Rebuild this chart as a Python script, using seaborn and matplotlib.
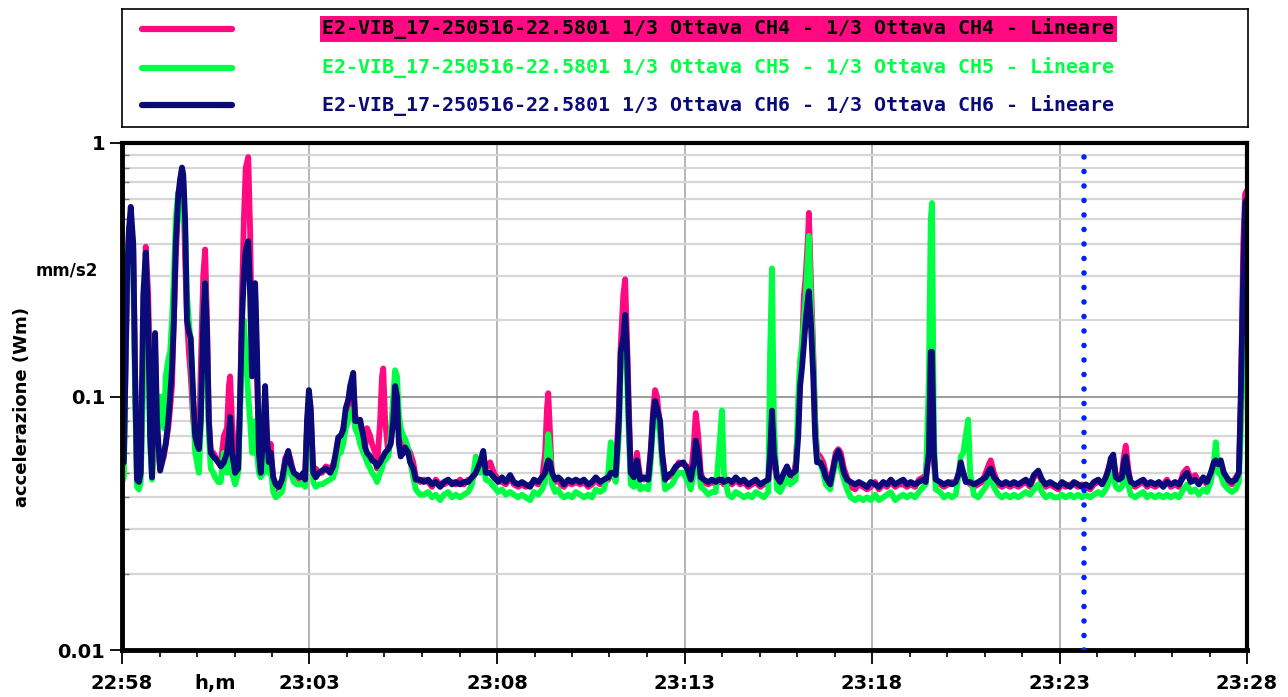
import numpy as np
import pandas as pd
import matplotlib
matplotlib.use("Agg")
import matplotlib.pyplot as plt
import matplotlib.dates as mdates
from matplotlib.ticker import FixedLocator, FuncFormatter, LogLocator, NullFormatter
import seaborn as sns

# ---------------- data ----------------
start_time = "2025-05-16 22:58:00"
span_s = 1800
cursor_s = 1539  # blue dotted cursor (23:23:39)

series_labels = [
    "E2-VIB_17-250516-22.5801 1/3 Ottava CH4 - 1/3 Ottava CH4 - Lineare",
    "E2-VIB_17-250516-22.5801 1/3 Ottava CH5 - 1/3 Ottava CH5 - Lineare",
    "E2-VIB_17-250516-22.5801 1/3 Ottava CH6 - 1/3 Ottava CH6 - Lineare",
]

# seconds after 22:58:00
time_s = [
    0, 3, 8, 11, 14, 18, 21, 24, 27, 30,
    34, 38, 42, 45, 48, 51, 53, 56, 61, 64,
    67, 70, 74, 77, 80, 83, 86, 90, 93, 96,
    98, 101, 104, 107, 110, 114, 117, 120, 123, 126,
    130, 133, 136, 139, 142, 146, 149, 154, 158, 163,
    168, 171, 173, 176, 181, 186, 189, 192, 195, 198,
    202, 205, 208, 211, 213, 216, 219, 222, 226, 229,
    232, 235, 238, 242, 246, 251, 256, 261, 266, 270,
    275, 280, 285, 290, 293, 296, 299, 302, 306, 310,
    315, 320, 326, 333, 338, 342, 346, 350, 354, 358,
    362, 365, 370, 373, 378, 381, 386, 389, 392, 397,
    400, 405, 408, 413, 416, 418, 421, 426, 430, 434,
    437, 440, 443, 446, 450, 453, 458, 461, 466, 470,
    477, 483, 490, 496, 502, 509, 515, 522, 528, 534,
    541, 547, 554, 560, 566, 573, 578, 582, 589, 595,
    602, 608, 614, 621, 627, 634, 640, 646, 653, 659,
    666, 672, 677, 680, 682, 685, 688, 693, 698, 702,
    707, 714, 720, 726, 733, 739, 746, 752, 758, 765,
    771, 778, 782, 786, 790, 795, 798, 802, 805, 808,
    811, 814, 819, 824, 829, 835, 842, 846, 850, 853,
    856, 861, 864, 869, 874, 880, 886, 891, 898, 904,
    910, 915, 918, 922, 926, 931, 938, 944, 950, 955,
    960, 963, 970, 976, 982, 989, 995, 1002, 1008, 1014,
    1021, 1027, 1034, 1037, 1040, 1043, 1048, 1053, 1059, 1064,
    1069, 1074, 1078, 1082, 1085, 1088, 1091, 1094, 1098, 1099,
    1102, 1106, 1109, 1112, 1117, 1122, 1126, 1133, 1138, 1142,
    1146, 1150, 1155, 1160, 1166, 1173, 1179, 1186, 1192, 1198,
    1205, 1211, 1218, 1224, 1230, 1237, 1243, 1250, 1256, 1262,
    1269, 1275, 1282, 1286, 1291, 1294, 1296, 1299, 1302, 1309,
    1315, 1322, 1328, 1334, 1339, 1342, 1346, 1350, 1354, 1357,
    1363, 1370, 1376, 1382, 1387, 1390, 1395, 1402, 1408, 1414,
    1421, 1427, 1434, 1440, 1446, 1453, 1459, 1466, 1472, 1478,
    1485, 1491, 1498, 1504, 1510, 1517, 1523, 1530, 1536, 1542,
    1549, 1555, 1562, 1568, 1574, 1579, 1582, 1586, 1590, 1595,
    1600, 1603, 1606, 1610, 1614, 1621, 1627, 1634, 1640, 1646,
    1653, 1659, 1666, 1672, 1678, 1685, 1691, 1698, 1704, 1710,
    1717, 1723, 1730, 1736, 1742, 1747, 1750, 1754, 1758, 1763,
    1770, 1776, 1782, 1787, 1790, 1794, 1797, 1800,
]

# CH4 (pink), mm/s2
ch4 = [
    .061, .058, .25, .45, .50, .38, .12, .048, .047, .05,
    .14, .39, .25, .1, .05, .09, .15, .07, .052, .055,
    .058, .065, .075, .09, .11, .2, .35, .58, .7, .78,
    .7, .35, .2, .15, .12, .08, .07, .06, .06, .13,
    .3, .38, .2, .08, .06, .06, .058, .055, .054, .07,
    .075, .11, .12, .08, .055, .055, .09, .25, .5, .8,
    .88, .45, .15, .2, .25, .12, .065, .055, .065, .1,
    .065, .06, .065, .045, .043, .045, .046, .057, .06, .056,
    .049, .048, .047, .048, .05, .075, .1, .085, .05, .052,
    .05, .05, .053, .052, .054, .058, .065, .068, .075, .085,
    .09, .1, .11, .085, .075, .07, .065, .062, .075, .07,
    .065, .06, .052, .08, .12, .129, .08, .06, .07, .09,
    .105, .1, .075, .07, .065, .06, .062, .06, .055, .048,
    .046, .047, .046, .044, .047, .045, .045, .046, .046, .045,
    .047, .045, .047, .047, .05, .052, .058, .052, .055, .05,
    .047, .046, .045, .048, .045, .044, .045, .044, .045, .046,
    .045, .047, .06, .09, .103, .07, .048, .046, .047, .045,
    .044, .046, .045, .046, .045, .046, .044, .045, .047, .045,
    .046, .047, .049, .05, .05, .09, .16, .25, .29, .17,
    .09, .05, .049, .06, .048, .047, .048, .062, .09, .106,
    .1, .075, .06, .048, .048, .049, .052, .055, .054, .053,
    .048, .065, .086, .07, .05, .046, .045, .046, .045, .046,
    .046, .045, .046, .045, .047, .045, .046, .044, .045, .046,
    .044, .045, .046, .058, .08, .055, .047, .045, .049, .052,
    .05, .048, .055, .08, .12, .15, .25, .3, .45, .53,
    .3, .15, .08, .06, .058, .055, .05, .046, .053, .06,
    .062, .06, .052, .048, .044, .043, .045, .044, .043, .044,
    .046, .043, .045, .044, .046, .044, .045, .045, .044, .045,
    .044, .047, .048, .049, .07, .14, .14, .055, .046, .045,
    .044, .045, .046, .045, .05, .053, .05, .047, .046, .045,
    .044, .045, .046, .05, .054, .056, .05, .045, .044, .045,
    .044, .045, .044, .045, .046, .044, .048, .05, .046, .044,
    .045, .044, .043, .045, .044, .045, .045, .044, .045, .044,
    .043, .045, .046, .046, .047, .053, .055, .057, .049, .048,
    .05, .058, .064, .052, .045, .044, .045, .046, .044, .045,
    .044, .045, .045, .047, .044, .045, .044, .05, .052, .047,
    .049, .046, .047, .045, .049, .053, .055, .053, .054, .048,
    .046, .045, .048, .05, .09, .4, .63, .65,
]

# CH5 (green), mm/s2
ch5 = [
    .046, .048, .38, .40, .45, .30, .10, .044, .043, .046,
    .12, .33, .18, .065, .047, .06, .1, .07, .1, .09,
    .075, .12, .14, .15, .2, .3, .5, .64, .55, .62,
    .5, .45, .25, .2, .16, .09, .06, .055, .05, .075,
    .2, .28, .15, .07, .052, .05, .048, .046, .046, .06,
    .05, .06, .07, .05, .045, .05, .09, .15, .2, .15,
    .1, .08, .06, .06, .08, .06, .05, .048, .05, .07,
    .058, .05, .052, .042, .04, .041, .042, .05, .055, .05,
    .046, .045, .045, .046, .044, .07, .095, .08, .046, .044,
    .045, .045, .046, .047, .048, .052, .06, .06, .065, .075,
    .08, .085, .09, .075, .07, .065, .06, .058, .055, .052,
    .05, .048, .046, .05, .052, .055, .056, .058, .07, .1,
    .127, .12, .085, .075, .07, .068, .062, .056, .048, .043,
    .041, .041, .042, .040, .041, .039, .041, .042, .040, .041,
    .040, .041, .042, .045, .058, .05, .055, .047, .046, .044,
    .042, .043, .041, .042, .041, .04, .041, .040, .039, .042,
    .041, .043, .046, .06, .071, .06, .045, .042, .043, .041,
    .040, .041, .040, .042, .041, .040, .041, .040, .043, .042,
    .043, .05, .066, .05, .046, .07, .13, .15, .19, .12,
    .07, .045, .044, .05, .043, .044, .043, .055, .08, .09,
    .085, .07, .055, .043, .044, .045, .048, .05, .05, .047,
    .043, .05, .058, .055, .044, .043, .041, .042, .042, .06,
    .088, .05, .041, .040, .042, .041, .040, .041, .040, .042,
    .041, .040, .042, .15, .32, .08, .043, .042, .045, .048,
    .045, .046, .047, .1, .14, .16, .2, .25, .38, .43,
    .25, .14, .08, .058, .055, .05, .045, .043, .05, .055,
    .057, .052, .047, .043, .040, .039, .040, .039, .040, .039,
    .041, .039, .040, .041, .042, .039, .040, .041, .040, .041,
    .040, .042, .044, .045, .12, .5, .58, .07, .043, .042,
    .040, .041, .040, .041, .05, .058, .06, .07, .081, .05,
    .041, .040, .042, .044, .047, .048, .044, .041, .040, .041,
    .040, .041, .040, .041, .042, .041, .043, .045, .042, .040,
    .041, .040, .040, .041, .040, .041, .040, .041, .040, .041,
    .040, .041, .042, .041, .043, .046, .048, .05, .044, .043,
    .044, .048, .05, .045, .041, .040, .041, .042, .040, .041,
    .040, .041, .040, .041, .040, .041, .040, .043, .045, .042,
    .043, .041, .043, .042, .046, .055, .066, .05, .049, .045,
    .043, .042, .043, .046, .07, .15, .23, .23,
]

# CH6 (navy), mm/s2
ch6 = [
    .056, .055, .29, .45, .56, .40, .12, .047, .046, .05,
    .25, .37, .2, .07, .048, .12, .178, .08, .051, .055,
    .06, .065, .08, .1, .13, .2, .4, .62, .72, .8,
    .75, .5, .2, .18, .17, .1, .07, .065, .062, .08,
    .2, .28, .18, .08, .06, .058, .057, .055, .053, .055,
    .06, .07, .083, .06, .05, .052, .1, .2, .3, .38,
    .41, .25, .12, .25, .28, .15, .06, .05, .07, .11,
    .07, .055, .06, .048, .045, .044, .047, .055, .061, .054,
    .05, .049, .048, .05, .047, .08, .106, .09, .05, .048,
    .05, .051, .052, .05, .053, .06, .069, .07, .074, .09,
    .097, .11, .124, .08, .08, .081, .07, .063, .06, .058,
    .056, .055, .053, .055, .057, .058, .06, .062, .065, .08,
    .11, .1, .065, .058, .06, .063, .06, .055, .052, .047,
    .047, .046, .047, .045, .046, .044, .046, .047, .045, .046,
    .045, .046, .046, .048, .05, .055, .061, .05, .05, .048,
    .046, .048, .046, .049, .046, .045, .046, .045, .044, .047,
    .046, .048, .05, .054, .056, .055, .05, .047, .048, .047,
    .045, .047, .046, .047, .046, .047, .045, .046, .048, .046,
    .047, .048, .05, .05, .049, .08, .15, .17, .21, .15,
    .08, .05, .048, .056, .047, .048, .047, .06, .085, .096,
    .09, .08, .06, .047, .049, .05, .053, .054, .055, .052,
    .047, .055, .067, .06, .048, .047, .046, .047, .046, .047,
    .047, .046, .047, .046, .048, .046, .047, .045, .046, .047,
    .045, .046, .047, .06, .088, .06, .048, .046, .05, .053,
    .049, .05, .051, .07, .11, .13, .16, .2, .25, .26,
    .2, .12, .07, .055, .055, .052, .048, .045, .052, .058,
    .061, .057, .05, .047, .046, .045, .046, .045, .044, .046,
    .045, .044, .046, .045, .047, .045, .046, .047, .045, .046,
    .045, .046, .047, .046, .06, .15, .15, .06, .047, .046,
    .045, .046, .045, .046, .05, .055, .05, .046, .046, .046,
    .045, .046, .047, .048, .051, .052, .048, .046, .045, .046,
    .045, .046, .045, .046, .047, .045, .049, .051, .047, .045,
    .046, .045, .044, .046, .045, .044, .046, .045, .044, .045,
    .044, .046, .047, .045, .048, .052, .057, .059, .048, .047,
    .048, .055, .058, .05, .046, .045, .046, .047, .045, .046,
    .045, .046, .044, .046, .045, .046, .045, .048, .05, .046,
    .047, .045, .048, .046, .05, .055, .056, .054, .056, .05,
    .047, .046, .047, .05, .1, .3, .58, .6,
]

series_colors = ["#ff0a80", "#00ff44", "#0a0a78"]
text_colors = ["#000000", "#00ff44", "#0a0a78"]
highlight_color = "#ff0a80"

assert len(time_s) == len(ch4) == len(ch5) == len(ch6), (len(time_s), len(ch4), len(ch5), len(ch6))

# ---------------- figure ----------------
sns.set_style("white")
plt.rcParams["font.family"] = ["DejaVu Sans"]
plt.rcParams["font.weight"] = "bold"
plt.rcParams["text.color"] = "black"
plt.rcParams["xtick.color"] = "black"
plt.rcParams["ytick.color"] = "black"
plt.rcParams["axes.labelcolor"] = "black"

W, H = 1288, 697
fig = plt.figure(figsize=(W / 100, H / 100), dpi=100)
fig.patch.set_facecolor("white")

ax = fig.add_axes([122 / W, (H - 650) / H, 1125 / W, 507 / H])

t0 = pd.Timestamp(start_time)
times = t0 + pd.to_timedelta(time_s, unit="s")
df = pd.DataFrame({
    "time": np.tile(times.values, 3),
    "value": ch4 + ch5 + ch6,
    "channel": np.repeat(series_labels, len(time_s)),
})

sns.lineplot(data=df, x="time", y="value", hue="channel", hue_order=series_labels,
             palette=series_colors, linewidth=4.2, legend=False, estimator=None,
             sort=False, ax=ax, solid_joinstyle="round", solid_capstyle="round")

ax.axvline(t0 + pd.Timedelta(seconds=cursor_s), color="#0022ff", lw=4,
           linestyle=(0, (0.01, 2.6)), dash_capstyle="round", zorder=5)

ax.set_yscale("log")
ax.set_ylim(0.01, 1)
ax.set_xlim(t0, t0 + pd.Timedelta(seconds=span_s))

ax.xaxis.set_major_locator(mdates.MinuteLocator(byminute=[3, 8, 13, 18, 23, 28, 33, 38, 43, 48, 53, 58]))
ax.xaxis.set_minor_locator(mdates.MinuteLocator())
ax.xaxis.set_major_formatter(mdates.DateFormatter("%H:%M"))
ax.yaxis.set_major_locator(FixedLocator([0.01, 0.1, 1]))
ax.yaxis.set_major_formatter(FuncFormatter(lambda v, p: f"{v:g}"))
ax.yaxis.set_minor_locator(LogLocator(base=10, subs=range(2, 10)))
ax.yaxis.set_minor_formatter(NullFormatter())

ax.set_axisbelow(True)
ax.grid(which="minor", axis="y", color="#d6d6d6", lw=1.6)
ax.grid(which="major", axis="y", color="#8a8a8a", lw=1.2)
ax.grid(which="major", axis="x", color="#a8a8a8", lw=1.2)

ax.tick_params(axis="x", which="both", bottom=True, top=False)
ax.tick_params(axis="y", which="both", left=True, right=False)
ax.tick_params(axis="x", which="major", direction="out", length=10, width=1.3, pad=7,
               labelsize=14, color="black", labelcolor="black")
ax.tick_params(axis="x", which="minor", direction="out", length=5, width=1.2, color="black")
ax.tick_params(axis="y", which="major", direction="out", length=9, width=1.3, pad=3,
               labelsize=14, color="black", labelcolor="black")
ax.tick_params(axis="y", which="minor", direction="in", length=5, width=1, color="#777777")
for lab in ax.get_xticklabels() + ax.get_yticklabels():
    lab.set_fontweight("bold")

for side, sp in ax.spines.items():
    sp.set_visible(True)
    sp.set_color("black")
    sp.set_linewidth(3.5 if side in ("left", "bottom") else 3)

ax.set_xlabel("")
ax.set_ylabel("")

fig.text(22 / W, 1 - 407 / H, "accelerazione (Wm)", rotation=90, ha="center", va="center",
         fontsize=13, fontweight="bold", color="black")
fig.text(67 / W, 1 - 270 / H, "mm/s2", ha="center", va="center", fontsize=12,
         fontweight="bold", color="black")
fig.text(215 / W, 1 - 683 / H, "h,m", ha="center", va="center", fontsize=14,
         fontweight="bold", color="black")

# ---------------- legend box ----------------
lax = fig.add_axes([122 / W, 1 - 127 / H, 1126 / W, 118 / H])
lax.set_xlim(0, 1)
lax.set_ylim(0, 1)
lax.set_xticks([])
lax.set_yticks([])
for sp in lax.spines.values():
    sp.set_visible(True)
    sp.set_color("black")
    sp.set_linewidth(1.2)

row_y = [0.832, 0.504, 0.185]
for i, (lab, col, tcol) in enumerate(zip(series_labels, series_colors, text_colors)):
    lax.plot([0.0178, 0.0978], [row_y[i], row_y[i]], color=col, lw=4.5, solid_capstyle="round")
    kw = {}
    if i == 0:
        kw["bbox"] = dict(boxstyle="square,pad=0.12", fc=highlight_color, ec="none")
    lax.text(0.1778, row_y[i], lab, color=tcol, ha="left", va="center", fontsize=14.4,
             fontweight="bold", family=["DejaVu Sans Mono"], **kw)

fig.savefig("out.png", dpi=100, facecolor="white")
